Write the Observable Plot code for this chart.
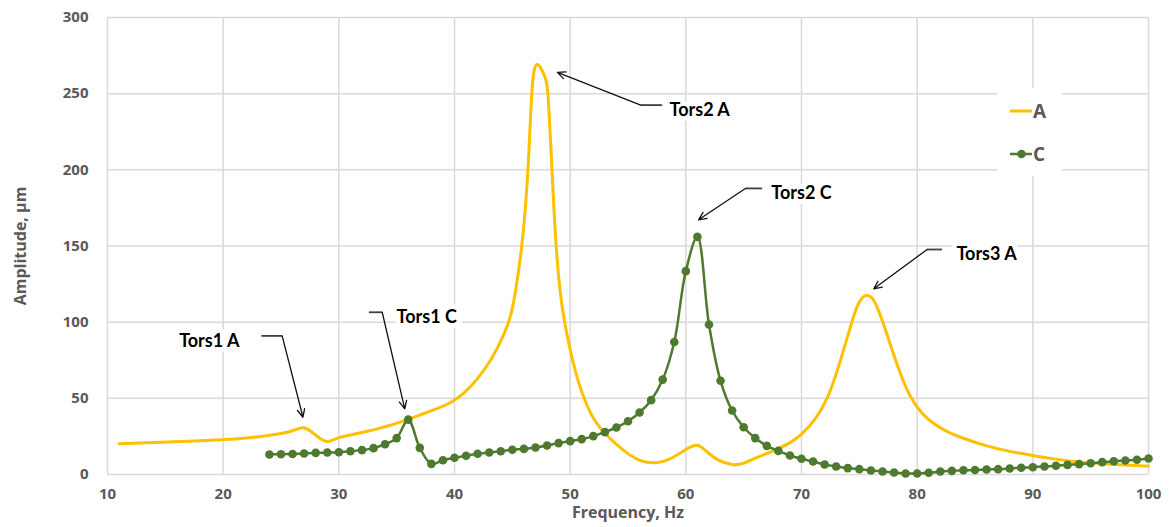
<!DOCTYPE html>
<html>
<head>
<meta charset="utf-8">
<script src="https://cdn.jsdelivr.net/npm/d3@7"></script>
<script src="https://cdn.jsdelivr.net/npm/@observablehq/plot@0.6"></script>
<style>
  body { margin: 0; background: #fff; }
  #wrap { position: relative; width: 1171px; height: 527px; }
  #legend { position: absolute; left: 997px; top: 88px; width: 65px; height: 88px; background: #fff; }
</style>
</head>
<body>
<div id="wrap">
  <div id="chart"></div>
  <div id="legend"></div>
</div>
<script>
// ---- Data ----
const xTicks = [10, 20, 30, 40, 50, 60, 70, 80, 90, 100];
const yTicks = [0, 50, 100, 150, 200, 250, 300];

const seriesNames = ["A", "C"];

// Series A (continuous curve)
const freqA = [11, 14, 17, 20, 22, 24, 25.3, 26.2, 26.9, 27.6, 28.3, 29.0, 29.5, 30.1, 31.2, 32.4, 33.5, 34.5, 35.3, 36.5,
  37.5, 38.6, 39.7, 40.8, 41.9, 43.2, 44.3, 44.9, 45.3, 45.8, 46.2, 46.45, 46.65, 46.85, 47.1, 47.5, 47.96, 48.1, 48.35, 48.55,
  48.8, 49.1, 49.4, 49.7, 50.6, 51.5, 52.2, 52.9, 54, 55, 56, 57.5, 58.7, 60.1, 61, 61.8, 62.7, 64.1, 65, 66,
  67.7, 69, 70.1, 71.2, 72.3, 73.3, 74.3, 74.8, 75.3, 75.7, 76.1, 76.5, 77.1, 78.2, 79.4, 80.5, 81.4, 82.5, 83.7, 86,
  88, 90, 92, 94, 96, 98, 100];
const ampA = [20.2, 21, 21.8, 22.8, 23.8, 25.6, 27.1, 29.2, 31.5, 28.5, 23.8, 20.8, 22.8, 24.5, 26.3, 28.2, 30.3, 32.4, 34.3, 37.5,
  40.5, 43.5, 47, 53, 61.7, 75, 92, 104, 121, 147, 180, 212.7, 250, 266, 270.5, 267, 259, 250, 212.7, 180,
  147, 121, 105, 92, 61.7, 44, 34, 27.8, 19.5, 13.5, 8.6, 7, 10, 17, 20.8, 15, 9.2, 5.8, 7, 11,
  15.8, 20.5, 26.7, 36, 49.7, 72.7, 99, 111, 117, 118, 116.5, 111, 99, 72.7, 49.7, 39, 33.3, 28.3, 24.5, 18.5,
  15, 12.5, 10, 8, 7, 6.2, 5.5];

// Series C (measured points, 1 Hz step)
const freqC = d3.range(24, 101);
const ampC = [13.1, 13.3, 13.5, 13.8, 14.2, 14.4, 14.6, 15.3, 16, 17.3, 19.9, 23.9, 36, 17.5, 7, 9.4, 11, 12.3, 13.6, 14.4,
  15.3, 16.2, 16.8, 17.7, 19, 20.6, 21.9, 23.2, 25.2, 27.8, 30.9, 35, 40.7, 48.8, 62.3, 87, 133.5, 156, 98.5, 61.5,
  42, 31, 23.9, 18.8, 15.5, 12.5, 10.3, 8.5, 6.6, 5.3, 4.2, 3.5, 2.6, 2, 1.3, 0.7, 0.7, 1.1, 2, 2.4,
  2.8, 2.9, 3.3, 3.5, 3.9, 4.4, 4.8, 5.3, 5.7, 6.3, 6.8, 7.4, 8.1, 8.7, 9.2, 9.7, 10.5];

// Annotations (data coordinates)
const annLabels = ["Tors1 A", "Tors1 C", "Tors2 A", "Tors2 C", "Tors3 A"];
const annTextX = [18.8, 37.6, 61.2, 70.0, 86.0];
const annTextY = [87.5, 103.3, 239, 184.5, 144.4];
const annLeadX1 = [23.3, 32.6, 57.95, 66.6, 82.15];
const annLeadX2 = [25.1, 33.75, 56.1, 65.15, 80.86];
const annLeadY = [91, 106.5, 242.5, 187.8, 147.7];
const annTipX = [26.9, 35.7, 48.9, 61.1, 76.25];
const annTipY = [37.6, 43.1, 264, 167.2, 121.9];

// ---- Build tables ----
const dataA = freqA.map((f, i) => ({f, a: ampA[i]}));
const dataC = freqC.map((f, i) => ({f, a: ampC[i]}));
const ann = annLabels.map((label, i) => ({
  label, tx: annTextX[i], ty: annTextY[i],
  lx1: annLeadX1[i], lx2: annLeadX2[i], ly: annLeadY[i],
  px: annTipX[i], py: annTipY[i]
}));

const colorA = "#FFC000";
const colorC = "#4E7A2F";
const gridColor = "#d9d9d9";
const axisColor = "#595959";

const chart = Plot.plot({
  width: 1171,
  height: 527,
  marginLeft: 107,
  marginRight: 23,
  marginTop: 17,
  marginBottom: 53,
  style: {fontFamily: "'Open Sans', sans-serif", fontSize: "15px", fontWeight: 700, color: axisColor, background: "#fff"},
  x: {domain: [10, 100]},
  y: {domain: [0, 300]},
  marks: [
    Plot.gridX(xTicks, {stroke: gridColor, strokeOpacity: 1, strokeWidth: 1.5}),
    Plot.gridY(yTicks, {stroke: gridColor, strokeOpacity: 1, strokeWidth: 1.5}),
    Plot.axisX(xTicks, {tickSize: 0, tickPadding: 14, fontSize: 15, fontWeight: 700, label: "Frequency, Hz",
      labelAnchor: "center", labelArrow: "none", labelOffset: 43}),
    Plot.axisY(yTicks, {tickSize: 0, tickPadding: 19, fontSize: 15, fontWeight: 700, label: "Amplitude, µm",
      labelAnchor: "center", labelArrow: "none", labelOffset: 93}),
    Plot.line(dataA, {x: "f", y: "a", stroke: colorA, strokeWidth: 3, curve: "basis"}),
    Plot.line(dataC, {x: "f", y: "a", stroke: colorC, strokeWidth: 2.5, curve: "catmull-rom"}),
    Plot.dot(dataC, {x: "f", y: "a", r: 4.3, fill: colorC, stroke: "none"}),
    Plot.link(ann, {x1: "lx1", y1: "ly", x2: "lx2", y2: "ly", stroke: "#404040", strokeWidth: 1.8}),
    Plot.arrow(ann, {x1: "lx2", y1: "ly", x2: "px", y2: "py", stroke: "#111", strokeWidth: 1.3, headLength: 10, headAngle: 50}),
    Plot.text(ann, {x: "tx", y: "ty", text: "label", fill: "#000", stroke: "#fff", strokeWidth: 10,
      fontFamily: "Lato, sans-serif", fontWeight: 700, fontSize: 18})
  ]
});
document.getElementById("chart").appendChild(chart);

// Axis-label font sizes
d3.select(chart).selectAll("[aria-label='x-axis label'] text, [aria-label='y-axis label'] text")
  .style("font-size", "16px");

// ---- Legend ----
const leg = d3.select("#legend").append("svg").attr("width", 65).attr("height", 88)
  .style("font-family", "'Open Sans', sans-serif").style("font-weight", 700);
const legY = [23, 66];
seriesNames.forEach((name, i) => {
  const g = leg.append("g");
  const col = i === 0 ? colorA : colorC;
  g.append("line").attr("x1", 13).attr("x2", 35).attr("y1", legY[i]).attr("y2", legY[i])
    .attr("stroke", col).attr("stroke-width", i === 0 ? 3 : 2.5);
  if (i === 1) g.append("circle").attr("cx", 24.5).attr("cy", legY[i]).attr("r", 4.3).attr("fill", col);
  g.append("text").attr("x", 36).attr("y", legY[i]).attr("dy", "0.36em").attr("fill", axisColor)
    .attr("font-size", 19).text(name);
});
</script>
</body>
</html>
